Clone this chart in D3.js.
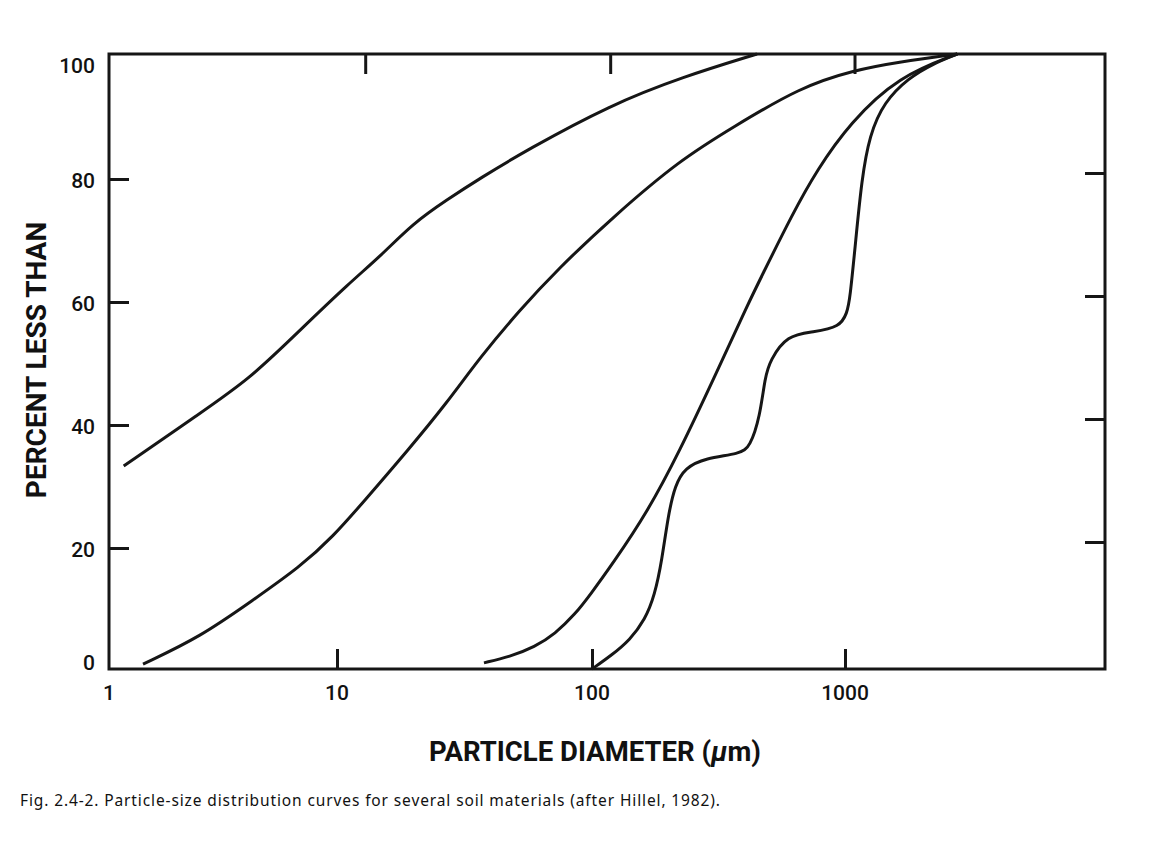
<!DOCTYPE html>
<html>
<head>
<meta charset="utf-8">
<script src="https://cdn.jsdelivr.net/npm/d3@7.9.0/dist/d3.min.js"></script>
<style>
  body { margin: 0; background: #fff; }
  text { fill: #111; }
</style>
</head>
<body>
<svg id="chart" width="1155" height="851"></svg>
<script>
const width = 1155;
const height = 851;
const plot = { left: 109, right: 1105, top: 54, bottom: 669 };

// axis values
const xLabelValues = [1, 10, 100, 1000];
const xBottomTicks = [10, 100, 1000];
const xTopTicks = [12.9, 118, 1090];   // top marks sit a bit off the bottom ones in the original
const yLabelValues = [0, 20, 40, 60, 80, 100];
const yTicks = [20, 40, 60, 80];

// curves: particle diameter (um) vs percent less than
const clayD = [1.16, 2.51, 4.15, 6.88, 11.2, 14.7, 19.9, 27.0, 36.4, 55.6, 118, 229, 449];
const clayP = [33.0, 41.6, 47.2, 55.1, 62.8, 67.0, 72.5, 76.3, 79.8, 84.4, 91.7, 96.3, 100];

const loamD = [1.41, 2.51, 4.28, 6.88, 9.6, 12.9, 19.0, 27.0, 36.4, 52.2, 72.9, 121, 223, 361, 664, 1093, 1630, 2767];
const loamP = [0.8, 5.2, 11.2, 16.6, 21.5, 27.5, 35.6, 43.3, 50.7, 58.4, 64.9, 73.5, 82.8, 88.1, 94.6, 97.4, 98.7, 100];

const sandD = [37.7, 47.6, 59.7, 71.6, 85.8, 98.1, 121, 165, 223, 301, 421, 461, 622, 774, 1045, 1630, 2767];
const sandP = [1.0, 2.0, 3.6, 5.7, 8.9, 12.0, 17.2, 25.4, 35.6, 47.0, 60.0, 63.3, 74.1, 81.1, 88.8, 96.4, 100];

const gradedD = [100, 120, 141, 162, 177, 189, 200, 213, 233, 280, 385, 421, 461, 483, 506, 590, 748, 955, 1018, 1045, 1103, 1163, 1248, 1425, 1778, 2219, 2767];
const gradedP = [0, 2.3, 4.7, 8.0, 12.0, 17.7, 25.0, 29.9, 32.7, 34.3, 35.0, 36.1, 41.0, 47.5, 50.2, 54.3, 54.8, 55.6, 57.9, 60.0, 69.8, 79.5, 86.8, 92.2, 96.1, 98.4, 100];

const series = [
  { name: "clay", d: clayD, p: clayP },
  { name: "loam", d: loamD, p: loamP },
  { name: "sand", d: sandD, p: sandP },
  { name: "graded", d: gradedD, p: gradedP }
];

const svg = d3.select("#chart");

// the printed log axis is not quite even, so piecewise per decade
const x = d3.scaleLog()
  .domain([1, 10, 100, 1000, 10560])
  .range([plot.left, 337, 592, 845, plot.right]);

const y = d3.scaleLinear()
  .domain([0, 100])
  .range([plot.bottom, plot.top]);

const ink = "#161616";

// curves (basis smooths out the reading noise of the hand drawn lines)
const line = d3.line()
  .x(d => x(d[0]))
  .y(d => y(d[1]))
  .curve(d3.curveBasis);

svg.append("g")
  .selectAll("path")
  .data(series)
  .join("path")
  .attr("d", s => line(s.d.map((v, i) => [v, s.p[i]])))
  .attr("fill", "none")
  .attr("stroke", ink)
  .attr("stroke-width", 3)
  .attr("stroke-linecap", "butt");

// inner tick marks
function marks(g) {
  g.select(".domain").remove();
  g.selectAll(".tick line").attr("stroke", ink).attr("stroke-width", 3);
  g.selectAll(".tick text").remove();
}

svg.append("g")
  .attr("transform", `translate(0,${plot.bottom})`)
  .call(d3.axisBottom(x).tickValues(xBottomTicks).tickSize(-20).tickFormat(""))
  .call(marks);

svg.append("g")
  .attr("transform", `translate(0,${plot.top})`)
  .call(d3.axisTop(x).tickValues(xTopTicks).tickSize(-20).tickFormat(""))
  .call(marks);

svg.append("g")
  .attr("transform", `translate(${plot.left},2)`)
  .call(d3.axisLeft(y).tickValues(yTicks).tickSize(-20).tickFormat(""))
  .call(marks);

svg.append("g")
  .attr("transform", `translate(${plot.right},-4)`)
  .call(d3.axisRight(y).tickValues(yTicks).tickSize(-20).tickFormat(""))
  .call(marks);

// frame
svg.append("rect")
  .attr("x", plot.left)
  .attr("y", plot.top)
  .attr("width", plot.right - plot.left)
  .attr("height", plot.bottom - plot.top)
  .attr("fill", "none")
  .attr("stroke", ink)
  .attr("stroke-width", 3);

// tick labels
const labelFont = "Roboto, 'Noto Sans', sans-serif";

svg.append("g")
  .selectAll("text")
  .data(xLabelValues)
  .join("text")
  .attr("x", d => x(d))
  .attr("y", 700)
  .attr("text-anchor", "middle")
  .attr("font-family", labelFont)
  .attr("font-size", 21)
  .attr("font-weight", 500)
  .text(d => d);

svg.append("g")
  .selectAll("text")
  .data(yLabelValues)
  .join("text")
  .attr("x", 95)
  .attr("y", d => d === 100 ? y(d) + 18.5 : d === 0 ? y(d) + 0.5 : y(d) + 10.5)
  .attr("text-anchor", "end")
  .attr("font-family", labelFont)
  .attr("font-size", 21)
  .attr("font-weight", 500)
  .text(d => d);

// axis titles
const xTitle = svg.append("text")
  .attr("x", 595)
  .attr("y", 761)
  .attr("text-anchor", "middle")
  .attr("font-family", labelFont)
  .attr("font-size", 27.5)
  .attr("font-weight", 700)
  .text("PARTICLE DIAMETER (");
xTitle.append("tspan").attr("font-style", "italic").text("\u03bc");
xTitle.append("tspan").text("m)");

svg.append("text")
  .attr("transform", "translate(46,360) rotate(-90)")
  .attr("text-anchor", "middle")
  .attr("font-family", labelFont)
  .attr("font-size", 28)
  .attr("font-weight", 700)
  .text("PERCENT LESS THAN");

// caption
svg.append("text")
  .attr("x", 20)
  .attr("y", 806)
  .attr("font-family", "'Noto Sans', 'Open Sans', sans-serif")
  .attr("font-size", 15.5)
  .attr("textLength", 700)
  .attr("lengthAdjust", "spacing")
  .text("Fig. 2.4-2. Particle-size distribution curves for several soil materials (after Hillel, 1982).");
</script>
</body>
</html>
